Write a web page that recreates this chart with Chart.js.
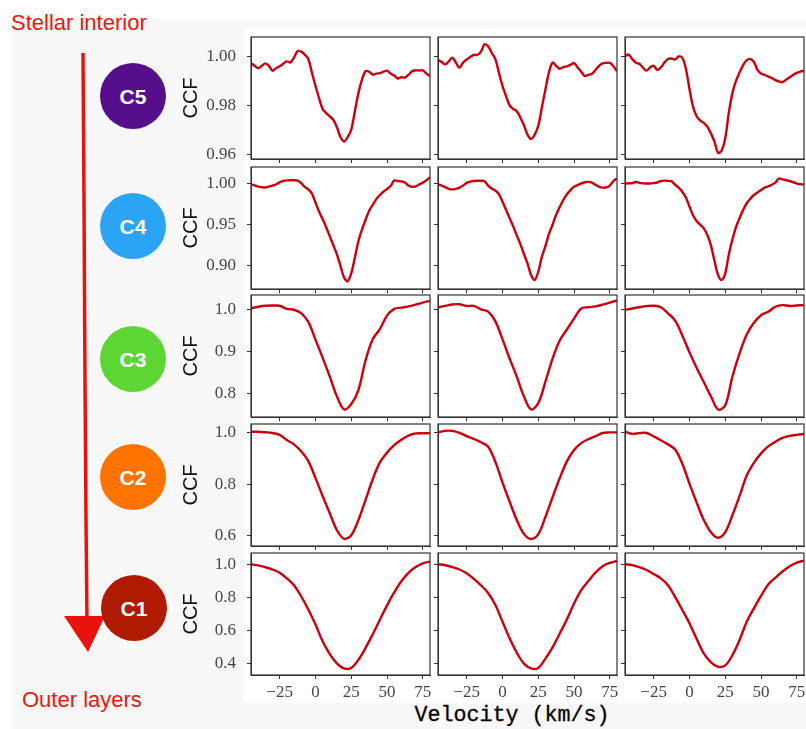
<!DOCTYPE html>
<html>
<head>
<meta charset="utf-8">
<script src="https://cdn.jsdelivr.net/npm/chart.js@4.4.1/dist/chart.umd.min.js"></script>
<style>
  html, body { margin: 0; padding: 0; background: #fff; overflow: hidden; }
  #stage { position: relative; width: 806px; height: 729px; }
  #bg { position: absolute; left: 12px; top: 20px; width: 794px; height: 709px; background: #f8f8f8; }
  #fig { position: absolute; left: 244px; top: 28px; width: 562px; height: 675px; background: #fff; }
  svg { position: absolute; left: 0; top: 0; }
  canvas { position: absolute; }
  #vel { position: absolute; left: 362px; width: 300px; top: 703px; height: 26px; line-height: 26px; text-align: center;
         font-family: "Liberation Mono", "Courier New", monospace; font-size: 21.7px; font-weight: normal; color: #000;
         -webkit-text-stroke: 0.3px #000; }
</style>
</head>
<body>
<div id="stage">
  <div id="bg"></div>
  <div id="fig"></div>
  <svg width="806" height="729">
    <text x="11" y="30" font-family="Liberation Sans, Arial, sans-serif" font-size="22" fill="#e8180c">Stellar interior</text>
    <path d="M83,53 L84,200 L85,380 L86,520 L87,622" stroke="#e8140c" stroke-width="3.5" fill="none"/>
    <polygon points="64,616 105,616 88,652" fill="#e8140c"/>
    <circle cx="133" cy="96" r="33" fill="#560f8a"/>
    <circle cx="133" cy="226" r="33" fill="#2ba4f5"/>
    <circle cx="133" cy="359" r="33" fill="#5cd633"/>
    <circle cx="133" cy="477" r="33" fill="#ff7400"/>
    <circle cx="134" cy="608" r="33" fill="#b01a00"/>
    <g font-family="Liberation Sans, Arial, sans-serif" font-size="21" font-weight="bold" fill="#fff" text-anchor="middle">
      <text x="133" y="104">C5</text>
      <text x="133" y="234">C4</text>
      <text x="133" y="367">C3</text>
      <text x="133" y="485">C2</text>
      <text x="134" y="616">C1</text>
    </g>
    <text x="22" y="707" font-family="Liberation Sans, Arial, sans-serif" font-size="22" fill="#e8180c">Outer layers</text>
  </svg>
  <div id="vel">Velocity (km/s)</div>
</div>
<script>
// velocity grids (km/s)
const velFine = [-45, -42.5, -40, -37.5, -35, -32.5, -30, -27.5, -25, -22.5, -20, -17.5, -15, -12.5, -10, -7.5, -5, -2.5,
  0, 2.5, 5, 7.5, 10, 12.5, 15, 17.5, 20, 22.5, 25, 27.5, 30, 32.5, 35, 37.5, 40, 42.5, 45, 47.5, 50, 52.5, 55, 57.5,
  60, 62.5, 65, 67.5, 70, 72.5, 75, 77.5, 80];
const velCoarse = [-45, -40, -35, -30, -25, -20, -15, -10, -5, 0, 5, 10, 15, 20, 25, 30, 35, 40, 45, 50, 55, 60, 65, 70, 75, 80];

// C5 (velFine)
const c5a = [0.9974, 0.9962, 0.9952, 0.9962, 0.9972, 0.9962, 0.9942, 0.9952, 0.9960, 0.9970, 0.9980, 0.9976, 0.9995,
  1.0022, 1.0020, 1.0008, 0.9990, 0.9935, 0.9880, 0.9830, 0.9785, 0.9768, 0.9755, 0.9740, 0.9710, 0.9670, 0.9652,
  0.9670, 0.9700, 0.9775, 0.9850, 0.9905, 0.9940, 0.9938, 0.9926, 0.9930, 0.9932, 0.9938, 0.9942, 0.9930, 0.9922,
  0.9910, 0.9915, 0.9914, 0.9925, 0.9940, 0.9943, 0.9943, 0.9943, 0.9930, 0.9920];
const c5b = [0.9986, 0.9978, 0.9968, 0.9980, 0.9995, 0.9975, 0.9954, 0.9975, 0.9988, 0.9998, 1.0007, 1.0007, 1.0020,
  1.0050, 1.0042, 1.0015, 0.9990, 0.9935, 0.9880, 0.9838, 0.9800, 0.9785, 0.9776, 0.9750, 0.9718, 0.9680, 0.9662,
  0.9680, 0.9715, 0.9790, 0.9865, 0.9935, 0.9975, 0.9962, 0.9950, 0.9957, 0.9960, 0.9966, 0.9973, 0.9955, 0.9938,
  0.9920, 0.9925, 0.9929, 0.9945, 0.9962, 0.9972, 0.9974, 0.9974, 0.9960, 0.9940];
const c5c = [1.0000, 1.0008, 0.9990, 0.9975, 0.9970, 0.9955, 0.9942, 0.9955, 0.9962, 0.9945, 0.9955, 0.9975, 0.9990,
  0.9992, 0.9988, 1.0000, 0.9995, 0.9950, 0.9868, 0.9795, 0.9755, 0.9738, 0.9728, 0.9712, 0.9685, 0.9650, 0.9605,
  0.9615, 0.9665, 0.9770, 0.9850, 0.9900, 0.9935, 0.9965, 0.9985, 0.9990, 0.9978, 0.9945, 0.9930, 0.9925, 0.9918,
  0.9912, 0.9903, 0.9898, 0.9895, 0.9905, 0.9915, 0.9925, 0.9933, 0.9938, 0.9942];

// C4 (velFine)
const c4a = [0.9990, 0.9978, 0.9962, 0.9955, 0.9952, 0.9962, 0.9975, 0.9988, 1.0015, 1.0030, 1.0038, 1.0040, 1.0040,
  1.0035, 1.0005, 0.9960, 0.9930, 0.9880, 0.9770, 0.9660, 0.9570, 0.9470, 0.9360, 0.9250, 0.9140, 0.9000, 0.8860,
  0.8815, 0.8910, 0.9100, 0.9300, 0.9440, 0.9560, 0.9670, 0.9740, 0.9810, 0.9860, 0.9900, 0.9935, 0.9970, 1.0035,
  1.0030, 1.0025, 1.0012, 0.9975, 0.9960, 0.9965, 0.9990, 1.0010, 1.0040, 1.0075];
const c4b = [0.9990, 0.9975, 0.9955, 0.9935, 0.9928, 0.9935, 0.9950, 0.9975, 1.0008, 1.0022, 1.0030, 1.0033, 1.0033,
  1.0028, 0.9975, 0.9940, 0.9915, 0.9870, 0.9780, 0.9680, 0.9580, 0.9480, 0.9370, 0.9265, 0.9145, 0.9030, 0.8890,
  0.8830, 0.8930, 0.9110, 0.9240, 0.9390, 0.9500, 0.9620, 0.9715, 0.9800, 0.9870, 0.9920, 0.9960, 0.9980, 1.0000,
  1.0015, 1.0020, 1.0010, 0.9985, 0.9960, 0.9950, 0.9952, 0.9975, 1.0030, 1.0062];
const c4c = [1.0000, 1.0002, 1.0005, 1.0018, 1.0008, 1.0002, 1.0000, 1.0000, 1.0005, 1.0012, 1.0030, 1.0035, 1.0032,
  1.0025, 0.9985, 0.9950, 0.9900, 0.9830, 0.9720, 0.9615, 0.9545, 0.9500, 0.9455, 0.9375, 0.9250, 0.9060, 0.8890,
  0.8830, 0.8910, 0.9140, 0.9320, 0.9470, 0.9580, 0.9680, 0.9760, 0.9815, 0.9860, 0.9890, 0.9920, 0.9950, 0.9965,
  0.9985, 1.0010, 1.0060, 1.0050, 1.0040, 1.0030, 1.0015, 1.0000, 0.9990, 0.9990];

// C3 (velCoarse)
const c3a = [1.0025, 1.0060, 1.0085, 1.0090, 1.0085, 1.0010, 0.9990, 0.9910, 0.9700, 0.9280, 0.8850, 0.8400, 0.7930,
  0.7620, 0.7750, 0.8080, 0.8790, 0.9290, 0.9530, 0.9850, 1.0010, 1.0040, 1.0070, 1.0110, 1.0160, 1.0200];
const c3b = [1.0048, 1.0080, 1.0115, 1.0120, 1.0080, 1.0080, 1.0000, 0.9945, 0.9720, 0.9290, 0.8830, 0.8400, 0.7930,
  0.7620, 0.7770, 0.8280, 0.8830, 0.9260, 0.9520, 0.9780, 1.0020, 1.0050, 1.0070, 1.0110, 1.0160, 1.0210];
const c3c = [0.9985, 1.0020, 1.0050, 1.0075, 1.0085, 1.0050, 0.9905, 0.9730, 0.9380, 0.8980, 0.8610, 0.8270, 0.7930,
  0.7620, 0.7720, 0.8400, 0.8950, 0.9400, 0.9680, 0.9860, 0.9940, 1.0060, 1.0100, 1.0080, 1.0090, 1.0100];

// C2 (velCoarse)
const c2a = [1.0040, 1.0040, 1.0020, 0.9990, 0.9920, 0.9720, 0.9550, 0.9280, 0.8900, 0.8250, 0.7550, 0.6880, 0.6220,
  0.5890, 0.6030, 0.6620, 0.7400, 0.8200, 0.8850, 0.9230, 0.9520, 0.9730, 0.9890, 0.9970, 0.9980, 0.9985];
const c2b = [1.0015, 1.0075, 1.0075, 1.0000, 0.9870, 0.9760, 0.9630, 0.9460, 0.8880, 0.8080, 0.7330, 0.6620, 0.6080,
  0.5880, 0.6070, 0.6740, 0.7500, 0.8240, 0.8890, 0.9330, 0.9600, 0.9750, 0.9870, 0.9990, 1.0015, 1.0015];
const c2c = [1.0040, 0.9960, 0.9985, 0.9990, 0.9860, 0.9710, 0.9550, 0.9350, 0.8800, 0.8030, 0.7300, 0.6620, 0.6140,
  0.5930, 0.6150, 0.6800, 0.7550, 0.8340, 0.8830, 0.9200, 0.9470, 0.9650, 0.9800, 0.9880, 0.9920, 0.9950];

// C1 (velCoarse)
const c1a = [1.0000, 0.9930, 0.9820, 0.9680, 0.9480, 0.9140, 0.8730, 0.8060, 0.7260, 0.6360, 0.5330, 0.4560, 0.4000,
  0.3690, 0.3720, 0.4210, 0.4930, 0.5760, 0.6640, 0.7510, 0.8290, 0.8970, 0.9480, 0.9830, 1.0055, 1.0160];
const c1b = [1.0000, 0.9940, 0.9830, 0.9680, 0.9450, 0.9110, 0.8720, 0.8260, 0.7540, 0.6526, 0.5510, 0.4640, 0.3980,
  0.3690, 0.3720, 0.4280, 0.4960, 0.5800, 0.6660, 0.7620, 0.8430, 0.8980, 0.9500, 0.9880, 1.0080, 1.0200];
const c1c = [1.0000, 0.9950, 0.9820, 0.9650, 0.9410, 0.9146, 0.8730, 0.8020, 0.7230, 0.6430, 0.5480, 0.4600, 0.4060,
  0.3790, 0.3870, 0.4490, 0.5410, 0.6520, 0.7330, 0.8080, 0.8770, 0.9180, 0.9560, 0.9880, 1.0100, 1.0220];

// tick labels
const xTicks = [-25, 0, 25, 50, 75];
const xLabels = ['\u221225', '0', '25', '50', '75'];
const yTicks = [[0.96, 0.98, 1.00], [0.90, 0.95, 1.00], [0.8, 0.9, 1.0], [0.6, 0.8, 1.0], [0.4, 0.6, 0.8, 1.0]];
const yLabels = [['0.96', '0.98', '1.00'], ['0.90', '0.95', '1.00'], ['0.8', '0.9', '1.0'], ['0.6', '0.8', '1.0'], ['0.4', '0.6', '0.8', '1.0']];
const yMin = [0.958, 0.872, 0.744, 0.561, 0.329];
const yMax = [1.008, 1.020, 1.034, 1.034, 1.068];

const rows = [[c5a, c5b, c5c], [c4a, c4b, c4c], [c3a, c3b, c3c], [c2a, c2b, c2c], [c1a, c1b, c1c]];

// panel layout in page pixels
const rowTop = [37, 167, 295, 424, 553];
const colLeft = [251, 438, 625];
const panelW = 179, panelH = 122;

const frame = {
  id: 'frame',
  afterDraw(chart) {
    const { ctx, chartArea: a } = chart;
    ctx.save();
    ctx.strokeStyle = '#333';
    ctx.lineWidth = 1.2;
    ctx.strokeRect(a.left, a.top, a.right - a.left, a.bottom - a.top);
    ctx.restore();
  }
};

const stage = document.getElementById('stage');

function panel(row, col) {
  const yw = col === 0 ? 81 : 6;
  const xh = row < 4 ? 6 : 28;
  const padTop = 4, padRight = 3;
  const w = yw + panelW + padRight, h = padTop + panelH + xh;
  const cv = document.createElement('canvas');
  cv.width = w; cv.height = h;
  cv.style.left = (colLeft[col] - yw) + 'px';
  cv.style.top = (rowTop[row] - padTop) + 'px';
  cv.style.width = w + 'px';
  cv.style.height = h + 'px';
  stage.appendChild(cv);

  const vel = row < 2 ? velFine : velCoarse;
  const vals = rows[row][col];

  new Chart(cv, {
    type: 'line',
    data: {
      datasets: [{
        data: vel.map((v, i) => ({ x: v, y: vals[i] })),
        borderColor: '#cc000e',
        borderWidth: 2.4,
        pointRadius: 0,
        tension: 0.35,
        fill: false
      }]
    },
    options: {
      responsive: false,
      animation: false,
      devicePixelRatio: 1,
      layout: { padding: { top: padTop, right: padRight, left: 0, bottom: 0 } },
      plugins: { legend: { display: false }, tooltip: { enabled: false } },
      scales: {
        x: {
          type: 'linear', min: -45, max: 80,
          afterBuildTicks: s => { s.ticks = xTicks.map(v => ({ value: v })); },
          afterFit: s => { s.height = xh; s.paddingLeft = 0; s.paddingRight = 0; },
          ticks: {
            display: row === 4, autoSkip: false, maxRotation: 0, padding: 3,
            font: { family: 'Liberation Serif', size: 17 }, color: '#444',
            callback: (v, i) => xLabels[i]
          },
          grid: { drawOnChartArea: false, drawTicks: true, tickLength: 4, color: '#333' },
          border: { display: true, color: '#333', width: 1 }
        },
        y: {
          min: yMin[row], max: yMax[row],
          afterBuildTicks: s => { s.ticks = yTicks[row].map(v => ({ value: v })); },
          afterFit: s => { s.width = yw; s.paddingTop = 0; s.paddingBottom = 0; },
          ticks: {
            display: col === 0, autoSkip: false, padding: 11,
            font: { family: 'Liberation Serif', size: 17 }, color: '#444',
            callback: (v, i) => yLabels[row][i]
          },
          grid: { drawOnChartArea: false, drawTicks: true, tickLength: 4, color: '#333' },
          border: { display: true, color: '#333', width: 1 },
          title: {
            display: col === 0, text: 'CCF',
            font: { family: 'Liberation Sans', size: 20, lineHeight: 1 }, color: '#111',
            padding: { top: 11, bottom: 0 }
          }
        }
      }
    },
    plugins: [frame]
  });
}

for (let r = 0; r < 5; r++) {
  for (let c = 0; c < 3; c++) panel(r, c);
}
</script>
</body>
</html>
